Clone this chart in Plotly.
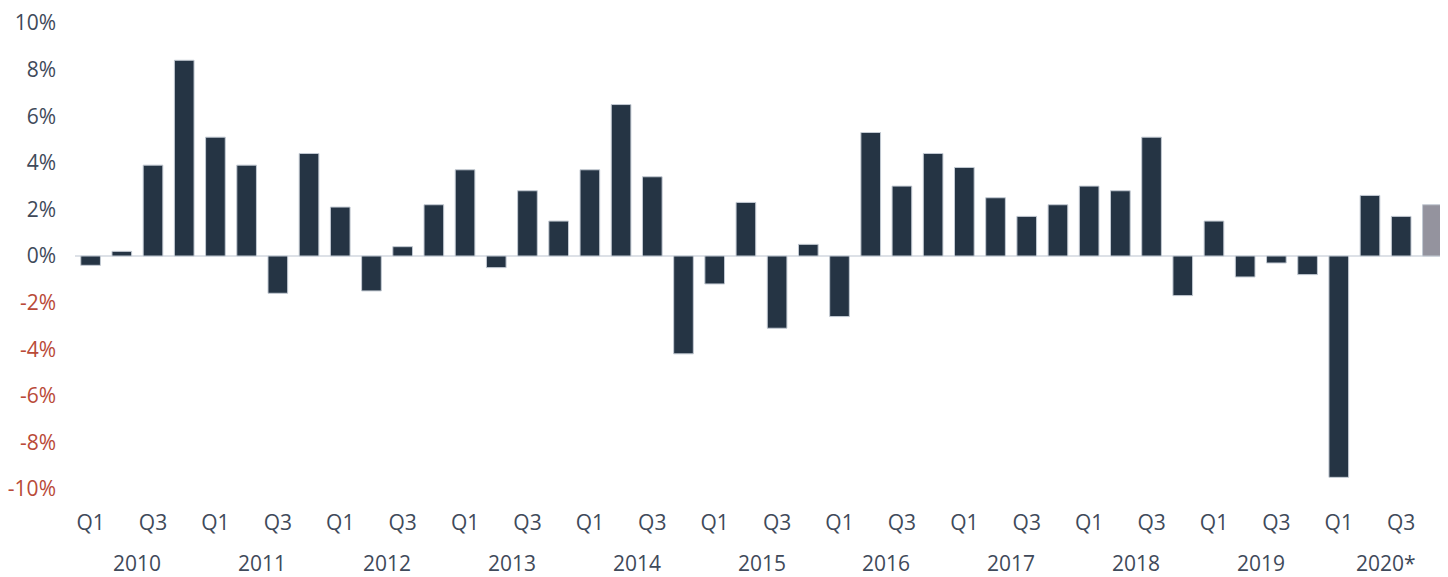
import plotly.graph_objects as go

years = ["2010", "2011", "2012", "2013", "2014", "2015", "2016", "2017", "2018", "2019", "2020*"]
quarters = ["Q1", "Q2", "Q3", "Q4"]
values = [
    -0.4, 0.2, 3.9, 8.4,
    5.1, 3.9, -1.6, 4.4,
    2.1, -1.5, 0.4, 2.2,
    3.7, -0.5, 2.8, 1.5,
    3.7, 6.5, 3.4, -4.2,
    -1.2, 2.3, -3.1, 0.5,
    -2.6, 5.3, 3.0, 4.4,
    3.8, 2.5, 1.7, 2.2,
    3.0, 2.8, 5.1, -1.7,
    1.5, -0.9, -0.3, -0.8,
    -9.5, 2.6, 1.7, 2.2,
]
estimate_last = True
y_ticks = [10, 8, 6, 4, 2, 0, -2, -4, -6, -8, -10]

DARK = "#253444"
GRAY = "#94939e"
TEXT = "#3f4a5a"
RED = "#b94a38"
FONT = "Open Sans"
FSIZE = 21

x = list(range(len(values)))
colors = [DARK] * len(values)
if estimate_last:
    colors[-1] = GRAY

q_vals = [i for i in x if i % 4 in (0, 2)]
q_text = [quarters[i % 4] for i in q_vals]

y_text = [
    f'<span style="color:{RED}">{v}%</span>' if v < 0 else f"{v}%" for v in y_ticks
]

fig = go.Figure(
    go.Bar(
        x=x,
        y=values,
        marker=dict(color=colors, line=dict(color="#c3cad3", width=1)),
        hoverinfo="skip",
    )
)

for yi, yr in enumerate(years):
    fig.add_annotation(
        x=yi * 4 + 1.5,
        y=0,
        xref="x",
        yref="paper",
        text=yr,
        showarrow=False,
        yanchor="middle",
        yshift=-74,
        borderpad=0,
        font=dict(family=FONT, size=FSIZE, color=TEXT),
    )

fig.update_layout(
    width=1440,
    height=569,
    margin=dict(l=66, r=0, t=10, b=88),
    paper_bgcolor="white",
    plot_bgcolor="white",
    bargap=0.37,
    showlegend=False,
    font=dict(family=FONT, size=FSIZE, color=TEXT),
    xaxis=dict(
        range=[-0.5, len(values) - 0.5],
        tickmode="array",
        tickvals=q_vals,
        ticktext=q_text,
        showgrid=False,
        zeroline=False,
        showline=False,
        ticks="",
        ticklabelstandoff=19,
    ),
    yaxis=dict(
        range=[-10, 10],
        tickmode="array",
        tickvals=y_ticks,
        ticktext=y_text,
        showgrid=False,
        zeroline=True,
        zerolinecolor="#dde1e7",
        zerolinewidth=2,
        showline=False,
        ticks="",
        ticklabelstandoff=18,
        ticklabeloverflow="allow",
    ),
)

fig.write_html("out.html")
